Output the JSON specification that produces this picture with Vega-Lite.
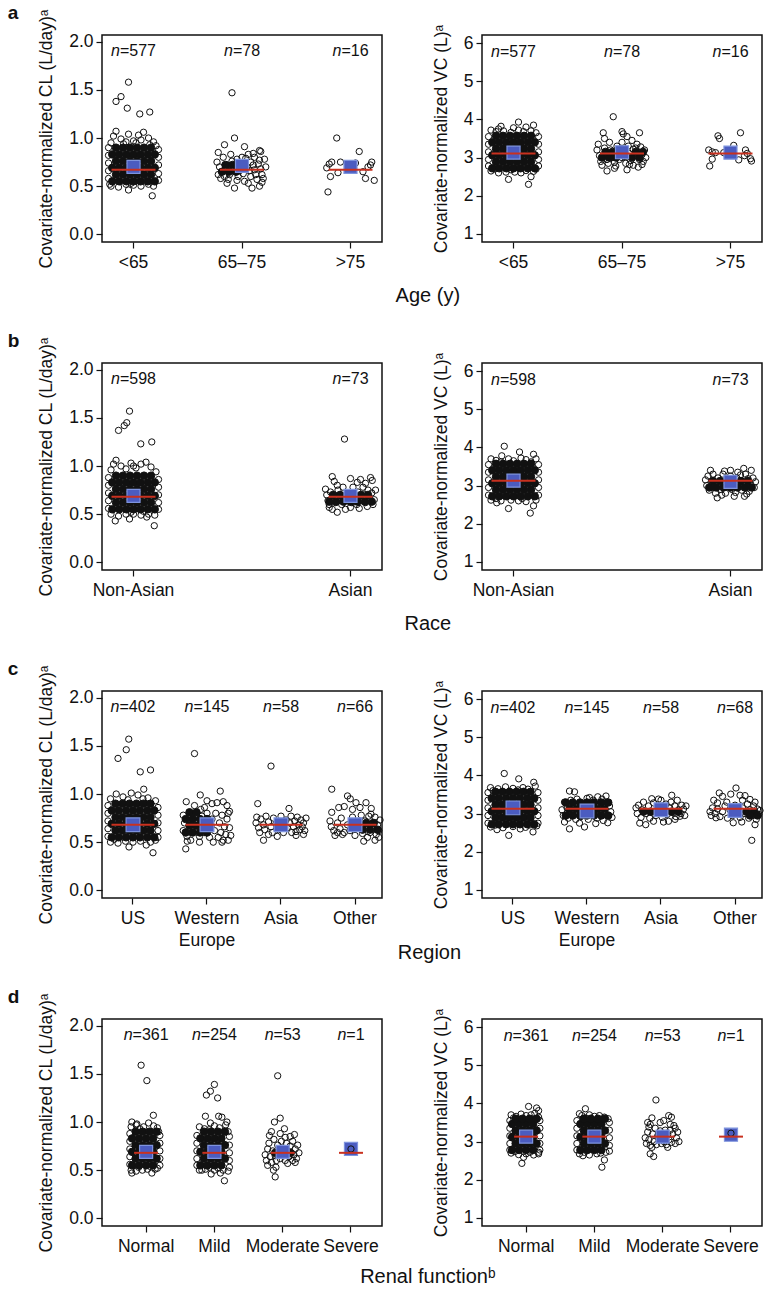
{
"$schema": "https://vega.github.io/schema/vega-lite/v6.json",
"background": "white",
"padding": {"left": 6, "top": 3, "right": 5, "bottom": 5},
"config": {
 "font": "Liberation Sans",
 "view": {"stroke": "#111", "strokeWidth": 1.5},
 "axis": {"labelFont": "Liberation Sans", "titleFont": "Liberation Sans", "labelFontSize": 17.5, "titleFontSize": 17.5, "titleFontWeight": "normal", "labelColor": "#111", "titleColor": "#111", "tickColor": "#111", "tickSize": 6, "tickWidth": 1.2, "grid": false, "domain": false},
 "axisY": {"labelPadding": 3, "titlePadding": 13},
 "axisX": {"labelPadding": 5, "labelAngle": 0},
 "title": {"font": "Liberation Sans", "color": "#111"}
},
"datasets": {
 "core": [
  {"p":"aL","g":"<65","v":0.55,"j":[-8.5,-5.7,-2.8,0,2.8,5.7,8.5]},
  {"p":"aL","g":"<65","v":0.62,"j":[-7,-4.2,-1.4,1.4,4.2,7]},
  {"p":"aL","g":"<65","v":0.69,"j":[-8.5,-5.7,-2.8,0,2.8,5.7,8.5]},
  {"p":"aL","g":"<65","v":0.76,"j":[-7,-4.2,-1.4,1.4,4.2,7]},
  {"p":"aL","g":"<65","v":0.83,"j":[-8.5,-5.7,-2.8,0,2.8,5.7,8.5]},
  {"p":"aL","g":"<65","v":0.90,"j":[-7,-4.2,-1.4,1.4,4.2,7]},
  {"p":"aL","g":"65–75","v":0.65,"j":[-8,-5.2,-2.4]},
  {"p":"aL","g":"65–75","v":0.72,"j":[-6.6,-3.8]},
  {"p":"aR","g":"<65","v":2.72,"j":[-8.5,-5.7,-2.8,0,2.8,5.7,8.5]},
  {"p":"aR","g":"<65","v":2.89,"j":[-7,-4.2,-1.4,1.4,4.2,7]},
  {"p":"aR","g":"<65","v":3.06,"j":[-8.5,-5.7,-2.8,0,2.8,5.7,8.5]},
  {"p":"aR","g":"<65","v":3.23,"j":[-7,-4.2,-1.4,1.4,4.2,7]},
  {"p":"aR","g":"<65","v":3.40,"j":[-8.5,-5.7,-2.8,0,2.8,5.7,8.5]},
  {"p":"aR","g":"<65","v":3.57,"j":[-7,-4.2,-1.4,1.4,4.2,7]},
  {"p":"aR","g":"65–75","v":3.0,"j":[-8,-5.2,-2.4,4,7]},
  {"p":"aR","g":"65–75","v":3.15,"j":[-6.6,-3.8,5.5,8.4]},
  {"p":"bL","g":"Non-Asian","v":0.55,"j":[-8.5,-5.7,-2.8,0,2.8,5.7,8.5]},
  {"p":"bL","g":"Non-Asian","v":0.62,"j":[-7,-4.2,-1.4,1.4,4.2,7]},
  {"p":"bL","g":"Non-Asian","v":0.69,"j":[-8.5,-5.7,-2.8,0,2.8,5.7,8.5]},
  {"p":"bL","g":"Non-Asian","v":0.76,"j":[-7,-4.2,-1.4,1.4,4.2,7]},
  {"p":"bL","g":"Non-Asian","v":0.83,"j":[-8.5,-5.7,-2.8,0,2.8,5.7,8.5]},
  {"p":"bL","g":"Non-Asian","v":0.90,"j":[-7,-4.2,-1.4,1.4,4.2,7]},
  {"p":"bL","g":"Asian","v":0.63,"j":[-8.5,-5.7,-2.8,0,2.8,5.7,8.5]},
  {"p":"bL","g":"Asian","v":0.70,"j":[-7,-4.2,-1.4,1.4,4.2,7]},
  {"p":"bR","g":"Non-Asian","v":2.72,"j":[-8.5,-5.7,-2.8,0,2.8,5.7,8.5]},
  {"p":"bR","g":"Non-Asian","v":2.89,"j":[-7,-4.2,-1.4,1.4,4.2,7]},
  {"p":"bR","g":"Non-Asian","v":3.06,"j":[-8.5,-5.7,-2.8,0,2.8,5.7,8.5]},
  {"p":"bR","g":"Non-Asian","v":3.23,"j":[-7,-4.2,-1.4,1.4,4.2,7]},
  {"p":"bR","g":"Non-Asian","v":3.40,"j":[-8.5,-5.7,-2.8,0,2.8,5.7,8.5]},
  {"p":"bR","g":"Non-Asian","v":3.57,"j":[-7,-4.2,-1.4,1.4,4.2,7]},
  {"p":"bR","g":"Asian","v":2.95,"j":[-8.5,-5.7,-2.8,0,2.8,5.7,8.5]},
  {"p":"bR","g":"Asian","v":3.12,"j":[-7,-4.2,-1.4,1.4,4.2,7]},
  {"p":"cL","g":"US","v":0.55,"j":[-8.5,-5.7,-2.8,0,2.8,5.7,8.5]},
  {"p":"cL","g":"US","v":0.62,"j":[-7,-4.2,-1.4,1.4,4.2,7]},
  {"p":"cL","g":"US","v":0.69,"j":[-8.5,-5.7,-2.8,0,2.8,5.7,8.5]},
  {"p":"cL","g":"US","v":0.76,"j":[-7,-4.2,-1.4,1.4,4.2,7]},
  {"p":"cL","g":"US","v":0.83,"j":[-8.5,-5.7,-2.8,0,2.8,5.7,8.5]},
  {"p":"cL","g":"US","v":0.90,"j":[-7,-4.2,-1.4,1.4,4.2,7]},
  {"p":"cL","g":"Western Europe","v":0.60,"j":[-8.5,-5.7,-2.8,0]},
  {"p":"cL","g":"Western Europe","v":0.67,"j":[-7,-4.2,-1.4,1.4]},
  {"p":"cL","g":"Western Europe","v":0.74,"j":[-8.5,-5.7,-2.8,0]},
  {"p":"cL","g":"Western Europe","v":0.81,"j":[-7,-4.2]},
  {"p":"cL","g":"Other","v":0.63,"j":[3,6,9]},
  {"p":"cL","g":"Other","v":0.70,"j":[4.5,7.5]},
  {"p":"cR","g":"US","v":2.72,"j":[-8.5,-5.7,-2.8,0,2.8,5.7,8.5]},
  {"p":"cR","g":"US","v":2.89,"j":[-7,-4.2,-1.4,1.4,4.2,7]},
  {"p":"cR","g":"US","v":3.06,"j":[-8.5,-5.7,-2.8,0,2.8,5.7,8.5]},
  {"p":"cR","g":"US","v":3.23,"j":[-7,-4.2,-1.4,1.4,4.2,7]},
  {"p":"cR","g":"US","v":3.40,"j":[-8.5,-5.7,-2.8,0,2.8,5.7,8.5]},
  {"p":"cR","g":"US","v":3.57,"j":[-7,-4.2,-1.4,1.4,4.2,7]},
  {"p":"cR","g":"Western Europe","v":2.95,"j":[-8.5,-5.7,-2.8,0,2.8,5.7,8.5]},
  {"p":"cR","g":"Western Europe","v":3.12,"j":[-7,-4.2,-1.4,1.4,4.2,7]},
  {"p":"cR","g":"Western Europe","v":3.29,"j":[-8.5,-5.7,-2.8,0,2.8,5.7,8.5]},
  {"p":"cR","g":"Asia","v":3.05,"j":[-7,-4.2,-1.4,1.4,4.2,7]},
  {"p":"cR","g":"Other","v":3.05,"j":[4.5,7.5]},
  {"p":"cR","g":"Other","v":2.95,"j":[6,9]},
  {"p":"dL","g":"Normal","v":0.55,"j":[-5.6,-2.8,0,2.8]},
  {"p":"dL","g":"Normal","v":0.62,"j":[-4.2,-1.4,1.4,4.2]},
  {"p":"dL","g":"Normal","v":0.69,"j":[-5.6,-2.8,0,2.8]},
  {"p":"dL","g":"Normal","v":0.76,"j":[-4.2,-1.4,1.4,4.2]},
  {"p":"dL","g":"Normal","v":0.83,"j":[-5.6,-2.8,0,2.8]},
  {"p":"dL","g":"Normal","v":0.90,"j":[-4.2,-1.4,1.4,4.2]},
  {"p":"dL","g":"Mild","v":0.55,"j":[-5.6,-2.8,0,2.8]},
  {"p":"dL","g":"Mild","v":0.62,"j":[-4.2,-1.4,1.4,4.2]},
  {"p":"dL","g":"Mild","v":0.69,"j":[-5.6,-2.8,0,2.8]},
  {"p":"dL","g":"Mild","v":0.76,"j":[-4.2,-1.4,1.4,4.2]},
  {"p":"dL","g":"Mild","v":0.83,"j":[-5.6,-2.8,0,2.8]},
  {"p":"dL","g":"Mild","v":0.90,"j":[-4.2,-1.4,1.4,4.2]},
  {"p":"dL","g":"Moderate","v":0.68,"j":[-3,0,3]},
  {"p":"dR","g":"Normal","v":2.78,"j":[-5.6,-2.8,0,2.8]},
  {"p":"dR","g":"Normal","v":2.95,"j":[-4.2,-1.4,1.4,4.2]},
  {"p":"dR","g":"Normal","v":3.12,"j":[-5.6,-2.8,0,2.8]},
  {"p":"dR","g":"Normal","v":3.29,"j":[-4.2,-1.4,1.4,4.2]},
  {"p":"dR","g":"Normal","v":3.46,"j":[-5.6,-2.8,0,2.8]},
  {"p":"dR","g":"Normal","v":3.60,"j":[-4.2,-1.4,1.4,4.2]},
  {"p":"dR","g":"Mild","v":2.78,"j":[-5.6,-2.8,0,2.8]},
  {"p":"dR","g":"Mild","v":2.95,"j":[-4.2,-1.4,1.4,4.2]},
  {"p":"dR","g":"Mild","v":3.12,"j":[-5.6,-2.8,0,2.8]},
  {"p":"dR","g":"Mild","v":3.29,"j":[-4.2,-1.4,1.4,4.2]},
  {"p":"dR","g":"Mild","v":3.46,"j":[-5.6,-2.8,0,2.8]},
  {"p":"dR","g":"Mild","v":3.60,"j":[-4.2,-1.4,1.4,4.2]}
 ],
 "open": [
  {"p":"aL","g":"<65","d":[[-2,1.58],[-5,1.43],[-7,1.38],[-2.5,1.31],[2.5,1.25],[6.5,1.27],[7.5,0.4],[-2,0.46],[-7,1.07],[-8,1.02],[-5,0.99],[-2,1.04],[0,0.97],[2,1.03],[4,1.06],[6,1.0],[8,0.96],[-9,0.95],[9,0.92],[3,0.98],[-3,0.96],[-10,0.9],[-10,0.82],[-10,0.74],[-10,0.66],[-10,0.58],[10,0.88],[10,0.8],[10,0.72],[10,0.63],[10,0.56],[-9.5,0.52],[-9,0.5],[-6,0.49],[-3,0.52],[0,0.51],[3,0.5],[6,0.52],[8,0.5],[-1,0.53],[5,0.55],[-4,0.94],[1,0.95],[6.5,0.93]]},
  {"p":"aL","g":"65–75","d":[[-4,1.47],[-3,1.0],[-7,0.93],[1,0.91],[7,0.87],[7.5,0.86],[-9.5,0.85],[4.5,0.84],[-4.5,0.83],[-7.5,0.8],[-2,0.78],[7,0.77],[3.5,0.75],[-3,0.48],[4,0.48],[7,0.5],[2.5,0.53],[1,0.55],[-10,0.75],[-9,0.7],[-8,0.65],[-9.5,0.62],[-8.5,0.58],[-6,0.72],[-6.5,0.67],[-5,0.62],[-5.5,0.57],[-4,0.76],[-3.5,0.7],[-2.5,0.65],[-1.5,0.6],[-1,0.73],[0,0.68],[0.5,0.63],[1.5,0.79],[2,0.7],[3,0.66],[3.5,0.6],[4.5,0.72],[5,0.67],[5.5,0.62],[6,0.57],[6.5,0.73],[7.5,0.68],[8,0.62],[8.5,0.58],[9,0.78],[9.5,0.7],[-7,0.6],[-2,0.56],[0,0.8],[5,0.8],[-6,0.53],[8,0.54],[-1,0.66],[2.5,0.83]]},
  {"p":"aL","g":">75","d":[[-9,0.44],[-8,0.6],[-9.5,0.69],[-8.5,0.73],[-7.5,0.75],[-5.5,1.0],[-4,0.75],[-5,0.64],[2,0.74],[3.5,0.86],[5,0.65],[6,0.58],[7,0.7],[8,0.72],[8.5,0.75],[9.5,0.56]]},
  {"p":"aR","g":"<65","d":[[2,3.93],[8,3.85],[-5,3.82],[5,3.8],[-2,2.43],[6,2.3],[7,2.5],[0.5,2.62],[-9,3.72],[-7,3.68],[-4,3.7],[-1,3.66],[2,3.72],[4,3.68],[7,3.7],[9,3.65],[-6,3.75],[0,3.78],[-10,3.55],[-10,3.35],[-10,3.15],[-10,2.95],[-10,2.78],[10,3.55],[10,3.35],[10,3.15],[10,2.95],[10,2.78],[-9,2.65],[-6,2.6],[-3,2.62],[-1,2.68],[3,2.6],[5,2.66],[8,2.64],[-7.5,2.7],[9,2.7]]},
  {"p":"aR","g":"65–75","d":[[-3.5,4.07],[-7.5,3.65],[0,3.68],[7,3.65],[0.5,3.62],[2,3.55],[-7,3.5],[-6,2.65],[-3,2.72],[6.5,2.75],[2,2.68],[4.5,2.8],[-10,3.2],[-9,3.05],[-8.5,2.9],[-9.5,3.35],[-7,3.25],[-6.5,3.1],[-6,2.95],[-5,3.4],[-4.5,3.2],[-4,3.0],[-3,2.88],[-2,3.3],[-1.5,3.12],[-1,2.95],[0,3.4],[0.5,3.2],[1,3.02],[1.5,2.85],[2.5,3.3],[3,3.1],[3.5,2.92],[4,3.45],[4.5,3.22],[5,3.05],[6,3.35],[6.5,3.15],[7,2.95],[7.5,3.28],[8,3.08],[8.5,2.9],[9,3.2],[9.5,3.0],[-8,2.8],[-2.5,2.78],[3,2.82],[8,2.82],[-5.5,2.85],[0,3.0],[-3.5,3.1],[5.5,3.25]]},
  {"p":"aR","g":">75","d":[[4,3.65],[-5,3.57],[-4.4,3.5],[1.3,3.32],[-8.7,3.2],[-7.3,3.15],[6,3.2],[-6,3.13],[-7.3,2.96],[-8.3,2.78],[3.3,2.94],[8,2.97],[8.4,2.91],[6.7,3.11],[5.6,3.05],[-2.7,3.13]]},
  {"p":"bL","g":"Non-Asian","d":[[-1.6,1.57],[-2.7,1.45],[-3.7,1.42],[-6,1.37],[2.9,1.23],[7.3,1.25],[8.3,0.38],[-7.3,0.43],[-1.6,0.45],[5.3,0.47],[-7,1.06],[-8,1.02],[-5,1.0],[-1,1.03],[1,0.98],[3,1.02],[5,1.04],[7,0.99],[-9,0.96],[9,0.94],[-3,0.97],[0,1.0],[-10,0.88],[-10,0.8],[-10,0.72],[-10,0.64],[-10,0.56],[10,0.86],[10,0.78],[10,0.7],[10,0.62],[10,0.55],[-9,0.5],[-6,0.48],[-3,0.5],[0,0.5],[3,0.49],[6,0.5],[8.5,0.49],[-1,0.52],[4,0.53]]},
  {"p":"bL","g":"Asian","d":[[-2.4,1.28],[-7.3,0.89],[0,0.87],[4,0.86],[8,0.88],[8.7,0.85],[2.7,0.83],[-5.3,0.8],[-5.3,0.52],[-7.3,0.55],[0,0.57],[6.7,0.58],[-10,0.76],[-9.5,0.7],[-9,0.64],[-8.5,0.6],[-8,0.73],[-6.5,0.67],[-6,0.62],[-5,0.75],[-4,0.7],[-3.5,0.6],[-3,0.78],[-2,0.65],[-1,0.72],[0.5,0.62],[1,0.78],[1.5,0.68],[2.5,0.6],[3,0.73],[4,0.65],[5,0.78],[5.5,0.7],[6,0.62],[7,0.75],[7.5,0.67],[8.5,0.72],[9.5,0.65],[10,0.75],[9,0.6],[-8.5,0.57],[-2,0.55],[3.5,0.56],[-6.5,0.84],[6,0.82]]},
  {"p":"bR","g":"Non-Asian","d":[[-3.7,4.03],[2.4,3.88],[8,3.82],[-4.7,3.78],[-2,2.4],[6.7,2.28],[8,2.47],[-6.7,2.55],[-9,3.7],[-7,3.66],[-2,3.7],[0,3.65],[3,3.72],[5,3.68],[9,3.7],[-5,3.62],[7,3.62],[-10,3.55],[-10,3.35],[-10,3.15],[-10,2.95],[-10,2.75],[10,3.55],[10,3.35],[10,3.15],[10,2.95],[10,2.75],[-9,2.62],[-5,2.6],[-1,2.62],[2,2.6],[5,2.58],[9,2.62],[-7,2.66],[3.5,2.66]]},
  {"p":"bR","g":"Asian","d":[[5.3,3.45],[8.3,3.4],[-2.4,3.38],[2.9,3.35],[-5.3,2.68],[5.6,2.72],[-10,3.15],[-9.5,3.0],[-9,3.25],[-8.5,2.88],[-7.5,3.1],[-7,3.3],[-6.5,2.95],[-6,2.8],[-5,3.2],[-4.5,3.05],[-4,2.9],[-3,3.3],[-2.5,3.1],[-2,2.8],[-1,3.0],[0,3.25],[0.5,2.9],[1,3.12],[2,2.82],[2.5,3.2],[3,3.0],[4,3.28],[4.5,2.88],[5,3.1],[6,3.3],[6.5,2.95],[7,3.18],[7.5,2.85],[8,3.05],[9,3.2],[9.5,2.95],[10,3.1],[-8,3.4],[0,3.4],[6.5,2.78],[-3.5,2.75],[1.5,2.72]]},
  {"p":"cL","g":"US","d":[[-1.7,1.57],[-2.7,1.46],[-6,1.37],[2.9,1.23],[7,1.25],[4.3,1.05],[8,0.39],[-1.6,0.45],[5.3,0.47],[-6.7,1.0],[-0.7,1.01],[-9,0.95],[-4,0.97],[2,0.99],[6,0.96],[9,0.93],[-2,0.94],[4,0.95],[-10,0.88],[-10,0.8],[-10,0.72],[-10,0.64],[-10,0.56],[10,0.86],[10,0.78],[10,0.7],[10,0.62],[10,0.55],[-9,0.5],[-6,0.49],[-3,0.51],[0,0.5],[3,0.51],[7,0.5],[9,0.52],[-7.5,0.53]]},
  {"p":"cL","g":"Western Europe","d":[[-5,1.42],[5.3,1.03],[-2.7,0.99],[-8.3,0.92],[-8.5,0.43],[-7.9,0.51],[0,0.93],[2,0.9],[4,0.91],[6.5,0.92],[8,0.88],[-5,0.88],[-1,0.86],[9,0.82],[-9.5,0.78],[-9,0.7],[-9.5,0.62],[-8,0.56],[-7,0.75],[-6.5,0.68],[-6,0.6],[-5,0.8],[-4.5,0.72],[-4,0.64],[-3,0.56],[-2,0.77],[-1.5,0.7],[-1,0.6],[0,0.8],[0.5,0.66],[1,0.55],[2,0.74],[3,0.62],[3.5,0.8],[4.5,0.55],[5,0.7],[5.5,0.6],[6,0.78],[6.5,0.52],[7,0.66],[7.5,0.58],[8,0.74],[8.5,0.52],[9,0.65],[9.5,0.57],[-3,0.5],[2.5,0.5],[6,0.5],[-6.5,0.52],[-2.5,0.84],[8.5,0.8]]},
  {"p":"cL","g":"Asia","d":[[-4,1.29],[-9.3,0.9],[3.2,0.85],[-9.7,0.76],[-7,0.52],[-5,0.58],[4.3,0.6],[-10,0.7],[-9,0.65],[-8.5,0.6],[-8,0.74],[-7,0.68],[-6.5,0.63],[-6,0.77],[-5,0.71],[-4,0.66],[-3.5,0.6],[-3,0.75],[-2,0.69],[-1,0.63],[0,0.77],[0.5,0.68],[1,0.6],[2,0.73],[2.5,0.65],[3.5,0.7],[4,0.77],[5,0.66],[5.5,0.72],[6,0.61],[6.5,0.76],[7,0.68],[7.5,0.63],[8,0.73],[8.5,0.66],[9,0.7],[9.5,0.62],[10,0.75],[-1.5,0.56],[6,0.57],[9,0.58]]},
  {"p":"cL","g":"Other","d":[[-9.3,1.05],[-3,0.98],[-1.9,0.95],[0.4,0.91],[4.4,0.91],[-4.3,0.87],[-9.3,0.81],[6.4,0.79],[3.5,0.51],[5,0.55],[-4.3,0.6],[-10,0.72],[-9.5,0.66],[-8.5,0.62],[-8,0.57],[-7,0.7],[-6,0.64],[-5.5,0.75],[-5,0.58],[-3,0.68],[-2,0.62],[-1,0.76],[0,0.57],[1,0.7],[2,0.64],[2.5,0.78],[3,0.59],[4,0.72],[5,0.65],[5.5,0.77],[6,0.6],[7,0.7],[7.5,0.64],[8,0.76],[8.5,0.58],[9,0.68],[9.5,0.62],[10,0.73],[9.5,0.55],[8,0.52],[-7,0.6],[-1,0.84],[2,0.86],[-6.5,0.86],[6.5,0.85]]},
  {"p":"cR","g":"US","d":[[-3.5,4.05],[2.3,3.91],[8.3,3.82],[8.9,3.72],[-1.7,2.43],[8,2.52],[2.9,2.6],[-6.4,2.58],[-9,3.68],[-6,3.65],[-3,3.7],[0,3.66],[4,3.68],[6,3.64],[-8,3.6],[2,3.62],[-10,3.55],[-10,3.35],[-10,3.15],[-10,2.95],[-10,2.75],[10,3.55],[10,3.35],[10,3.15],[10,2.95],[10,2.75],[-9,2.65],[-4,2.63],[0,2.66],[5,2.64],[9.5,2.68],[-7,2.7],[6.5,2.7]]},
  {"p":"cR","g":"Western Europe","d":[[-7,3.59],[-5,3.57],[7.6,3.46],[4.3,3.44],[-7,2.6],[-1,2.65],[8.3,2.76],[-9,2.78],[-10,3.1],[-9.5,2.95],[-9,3.3],[-8,3.15],[-7.5,2.88],[-6.5,3.35],[-6,3.0],[-5,3.22],[-4.5,2.85],[-4,3.38],[-3,3.1],[-2.5,2.92],[-2,3.28],[-1,3.05],[0,3.4],[0.5,2.85],[1,3.2],[2,2.98],[2.5,3.35],[3,3.12],[4,2.88],[5,3.25],[5.5,3.0],[6,3.38],[6.5,2.82],[7,3.15],[8,3.3],[8.5,2.95],[9,3.2],[9.5,3.05],[10,2.9],[-3,2.75],[3.5,2.74],[1,3.42]]},
  {"p":"cR","g":"Asia","d":[[4.3,3.48],[-3.7,3.39],[8.3,3.22],[-6.1,2.71],[-3,2.8],[3,2.8],[5.6,2.85],[7.6,2.93],[-10,3.15],[-9.5,3.0],[-9,3.22],[-8,2.9],[-7.5,3.1],[-7,3.3],[-6,3.0],[-5,3.2],[-4.5,2.88],[-4,3.05],[-3,3.28],[-2,2.95],[-1,3.15],[0,3.35],[0.5,2.9],[1,3.08],[2,3.25],[2.5,2.98],[3.5,3.15],[4,3.3],[5,3.02],[5.5,3.2],[6,2.92],[6.5,3.35],[7,3.1],[8,3.0],[9,3.12],[9.5,2.95],[10,3.2],[-8.5,2.75],[1,2.78],[-1,3.38]]},
  {"p":"cR","g":"Other","d":[[0.4,3.67],[-6.3,3.54],[-1.7,3.51],[2,3.48],[4,3.47],[6,3.37],[-7,3.28],[-3.3,3.3],[6.7,2.3],[8,2.71],[-0.7,2.76],[2.7,2.78],[-7.6,2.89],[-10,3.05],[-9.5,2.95],[-9,3.15],[-8,3.0],[-7,3.12],[-6,2.92],[-5,3.05],[-4,3.2],[-3,2.88],[-2,3.1],[-1,2.95],[0,3.22],[1,3.05],[2,2.9],[3,3.15],[4,3.0],[5,3.25],[5.5,2.88],[6,3.1],[7,2.95],[7.5,3.2],[8,3.05],[8.5,2.85],[9,3.12],[9.5,2.98],[10,3.08],[-5,3.45],[3,3.35],[8,3.3],[-8.5,3.35]]},
  {"p":"dL","g":"Normal","d":[[-2,1.59],[0.3,1.43],[2.9,1.07],[-5.7,1.0],[-3.7,0.98],[-5.7,0.47],[2.3,0.47],[3.6,0.51],[-6,0.95],[-4,0.97],[-1,0.95],[1,0.99],[3,0.96],[4.5,0.94],[-2.5,0.93],[5,0.9],[-6.5,0.88],[-6.5,0.8],[-6.5,0.72],[-6.5,0.64],[-6.5,0.56],[5.5,0.86],[5.5,0.78],[5.5,0.7],[5.5,0.62],[5.5,0.55],[-6,0.5],[-4,0.49],[-1.5,0.5],[0.5,0.51],[4.5,0.52],[-3,0.53],[1.5,0.54]]},
  {"p":"dL","g":"Mild","d":[[0,1.39],[-1.6,1.32],[-3.2,1.28],[1.3,1.25],[-3.6,1.06],[1.7,1.06],[3,1.05],[-1.6,0.99],[4,0.39],[-1.3,0.46],[-5,0.5],[2.4,0.47],[-6,0.95],[-4,0.93],[0,0.96],[2,0.94],[4.5,0.97],[5.5,0.9],[-2,0.92],[5,1.0],[-7,0.86],[-7,0.78],[-7,0.7],[-7,0.62],[-7,0.55],[6,0.85],[6,0.76],[6,0.68],[6,0.6],[6,0.53],[-6,0.5],[-3.5,0.51],[0,0.5],[3.5,0.5],[5.5,0.49],[-2,0.53],[1.5,0.52]]},
  {"p":"dL","g":"Moderate","d":[[-2,1.48],[-1,1.04],[-3.3,1.0],[0.7,0.93],[4.7,0.87],[-5.3,0.86],[-3,0.43],[-3.7,0.5],[-2.7,0.53],[2,0.57],[4,0.6],[-7,0.66],[-6.5,0.6],[-6,0.72],[-5.5,0.78],[-5,0.64],[-4.5,0.58],[-4,0.7],[-3.5,0.82],[-3,0.65],[-2.5,0.6],[-2,0.76],[-1.5,0.68],[-1,0.62],[-0.5,0.8],[0,0.72],[0.5,0.65],[1,0.6],[1.5,0.78],[2,0.7],[2.5,0.64],[3,0.75],[3.5,0.68],[4,0.8],[4.5,0.66],[5,0.72],[5.5,0.62],[6,0.76],[6.5,0.68],[-6,0.55],[5,0.58],[3,0.85],[-1,0.88],[1,0.84],[-4.5,0.9]]},
  {"p":"dL","g":"Severe","d":[[0,0.72]]},
  {"p":"dR","g":"Normal","d":[[1,3.92],[4.2,3.88],[5,3.81],[-1.7,2.43],[-1,2.59],[5,2.68],[-6,3.7],[-4,3.66],[-2,3.72],[0,3.68],[2,3.7],[3.5,3.74],[-5,3.62],[5,3.64],[-6.5,3.55],[-6.5,3.35],[-6.5,3.15],[-6.5,2.95],[-6.5,2.78],[5.5,3.55],[5.5,3.35],[5.5,3.15],[5.5,2.95],[5.5,2.78],[-6,2.7],[-3,2.66],[0,2.68],[3,2.65],[5,2.72],[-4.5,2.74],[1.5,2.72]]},
  {"p":"dR","g":"Mild","d":[[-3.6,3.86],[-6,3.73],[3,2.33],[4,2.52],[-4.6,2.63],[4.6,2.72],[-5,3.68],[-2,3.7],[0,3.66],[2,3.68],[4,3.64],[5.5,3.6],[-3.5,3.62],[-7,3.55],[-7,3.35],[-7,3.15],[-7,2.95],[-7,2.78],[6,3.5],[6,3.3],[6,3.1],[6,2.9],[6,2.75],[-6,2.68],[-2,2.65],[1,2.68],[-4,2.72],[2.5,2.7]]},
  {"p":"dR","g":"Moderate","d":[[-2.7,4.09],[2.4,3.68],[3.5,3.64],[-4.3,3.62],[0.4,3.55],[-5,3.45],[-5.5,3.38],[-3.6,2.61],[-5,2.68],[-4.3,2.85],[-7,3.1],[-6.5,2.95],[-6,3.25],[-5.5,3.05],[-5,2.9],[-4,3.2],[-3.5,3.0],[-3,3.35],[-2.5,2.92],[-2,3.15],[-1.5,3.05],[-1,3.28],[-0.5,2.95],[0,3.15],[0.5,3.0],[1,3.3],[1.5,2.92],[2,3.18],[2.5,3.05],[3,3.3],[3.5,2.98],[4,3.2],[4.5,3.42],[5,3.35],[5.5,3.1],[6,3.25],[6.5,3.0],[3,3.45],[-1,3.5],[-6,3.5],[2,2.85],[5,2.95]]},
  {"p":"dR","g":"Severe","d":[[0,3.22]]}
 ],
 "grp": [
  {"p":"aL","g":"<65","m":0.70,"r":0.67,"t":"=577"},
  {"p":"aL","g":"65–75","m":0.71,"r":0.67,"t":"=78"},
  {"p":"aL","g":">75","m":0.70,"r":0.67,"t":"=16"},
  {"p":"aR","g":"<65","m":3.13,"r":3.11,"t":"=577"},
  {"p":"aR","g":"65–75","m":3.14,"r":3.11,"t":"=78"},
  {"p":"aR","g":">75","m":3.13,"r":3.11,"t":"=16"},
  {"p":"bL","g":"Non-Asian","m":0.69,"r":0.68,"t":"=598"},
  {"p":"bL","g":"Asian","m":0.69,"r":0.68,"t":"=73"},
  {"p":"bR","g":"Non-Asian","m":3.13,"r":3.13,"t":"=598"},
  {"p":"bR","g":"Asian","m":3.10,"r":3.13,"t":"=73"},
  {"p":"cL","g":"US","m":0.68,"r":0.68,"t":"=402"},
  {"p":"cL","g":"Western Europe","m":0.68,"r":0.68,"t":"=145"},
  {"p":"cL","g":"Asia","m":0.68,"r":0.68,"t":"=58"},
  {"p":"cL","g":"Other","m":0.68,"r":0.68,"t":"=66"},
  {"p":"cR","g":"US","m":3.15,"r":3.13,"t":"=402"},
  {"p":"cR","g":"Western Europe","m":3.07,"r":3.13,"t":"=145"},
  {"p":"cR","g":"Asia","m":3.10,"r":3.13,"t":"=58"},
  {"p":"cR","g":"Other","m":3.08,"r":3.13,"t":"=68"},
  {"p":"dL","g":"Normal","m":0.69,"r":0.68,"t":"=361"},
  {"p":"dL","g":"Mild","m":0.69,"r":0.68,"t":"=254"},
  {"p":"dL","g":"Moderate","m":0.69,"r":0.68,"t":"=53"},
  {"p":"dL","g":"Severe","m":0.72,"r":0.68,"t":"=1"},
  {"p":"dR","g":"Normal","m":3.13,"r":3.13,"t":"=361"},
  {"p":"dR","g":"Mild","m":3.13,"r":3.13,"t":"=254"},
  {"p":"dR","g":"Moderate","m":3.13,"r":3.13,"t":"=53"},
  {"p":"dR","g":"Severe","m":3.18,"r":3.13,"t":"=1"}
 ]
},
"vconcat": [
 {"hconcat": [
  {"width":280,"height":207,
   "title":{"text":"a","anchor":"start","frame":"bounds","fontSize":19,"fontWeight":"bold","dx":-30,"offset":-14},
   "layer":[
    {"data":{"name":"core"},"transform":[{"filter":"datum.p=='aL'"},{"flatten":["j"]}],"mark":{"type":"point","shape":"circle","filled":true,"size":56,"color":"#111","stroke":"#111","strokeWidth":1,"opacity":1},
     "encoding":{"x":{"field":"g","type":"nominal","scale":{"type":"band","domain":["<65","65–75",">75"],"paddingInner":0.539,"paddingOuter":0.06},"axis":{"title":null}},"xOffset":{"field":"j","type":"quantitative","scale":{"domain":[-10,10]}},"y":{"field":"v","type":"quantitative","scale":{"domain":[-0.08,2.07],"nice":false,"zero":false},"axis":{"values":[0,0.5,1,1.5,2],"format":".1f","title":"Covariate-normalized CL (L/day)ᵃ"}}}},
    {"data":{"name":"open"},"transform":[{"filter":"datum.p=='aL'"},{"flatten":["d"]}],"mark":{"type":"point","shape":"circle","filled":false,"size":40,"color":"#111","strokeWidth":1,"opacity":1},
     "encoding":{"x":{"field":"g","type":"nominal"},"xOffset":{"field":"d[0]","type":"quantitative"},"y":{"field":"d[1]","type":"quantitative"}}},
    {"data":{"name":"grp"},"transform":[{"filter":"datum.p=='aL'"}],"mark":{"type":"point","shape":"square","filled":true,"size":170,"color":"#4b5cc0","stroke":"#7e93dd","strokeWidth":1.2,"opacity":1},
     "encoding":{"x":{"field":"g","type":"nominal"},"y":{"field":"m","type":"quantitative"}}},
    {"data":{"name":"grp"},"transform":[{"filter":"datum.p=='aL'"}],"mark":{"type":"tick","color":"#c9311f","thickness":2,"size":44,"opacity":1},
     "encoding":{"x":{"field":"g","type":"nominal"},"y":{"field":"r","type":"quantitative"}}},
    {"data":{"name":"grp"},"transform":[{"filter":"datum.p=='aL'"}],"mark":{"type":"text","text":"n","fontStyle":"italic","fontSize":16,"align":"right","baseline":"middle","color":"#111","dx":{"expr":"-0.2-4.45*(length(datum.t)-1)"}},
     "encoding":{"x":{"field":"g","type":"nominal"},"y":{"datum":1.9}}},
    {"data":{"name":"grp"},"transform":[{"filter":"datum.p=='aL'"}],"mark":{"type":"text","fontSize":16,"align":"left","baseline":"middle","color":"#111","dx":{"expr":"-0.2-4.45*(length(datum.t)-1)"}},
     "encoding":{"x":{"field":"g","type":"nominal"},"y":{"datum":1.9},"text":{"field":"t"}}}
   ]},
  {"width":280,"height":207,
   "layer":[
    {"data":{"name":"core"},"transform":[{"filter":"datum.p=='aR'"},{"flatten":["j"]}],"mark":{"type":"point","shape":"circle","filled":true,"size":56,"color":"#111","stroke":"#111","strokeWidth":1,"opacity":1},
     "encoding":{"x":{"field":"g","type":"nominal","scale":{"type":"band","domain":["<65","65–75",">75"],"paddingInner":0.539,"paddingOuter":0.06},"axis":{"title":null}},"xOffset":{"field":"j","type":"quantitative","scale":{"domain":[-10,10]}},"y":{"field":"v","type":"quantitative","scale":{"domain":[0.79,6.21],"nice":false,"zero":false},"axis":{"values":[1,2,3,4,5,6],"format":"d","title":"Covariate-normalized VC (L)ᵃ"}}}},
    {"data":{"name":"open"},"transform":[{"filter":"datum.p=='aR'"},{"flatten":["d"]}],"mark":{"type":"point","shape":"circle","filled":false,"size":40,"color":"#111","strokeWidth":1,"opacity":1},
     "encoding":{"x":{"field":"g","type":"nominal"},"xOffset":{"field":"d[0]","type":"quantitative"},"y":{"field":"d[1]","type":"quantitative"}}},
    {"data":{"name":"grp"},"transform":[{"filter":"datum.p=='aR'"}],"mark":{"type":"point","shape":"square","filled":true,"size":170,"color":"#4b5cc0","stroke":"#7e93dd","strokeWidth":1.2,"opacity":1},
     "encoding":{"x":{"field":"g","type":"nominal"},"y":{"field":"m","type":"quantitative"}}},
    {"data":{"name":"grp"},"transform":[{"filter":"datum.p=='aR'"}],"mark":{"type":"tick","color":"#c9311f","thickness":2,"size":44,"opacity":1},
     "encoding":{"x":{"field":"g","type":"nominal"},"y":{"field":"r","type":"quantitative"}}},
    {"data":{"name":"grp"},"transform":[{"filter":"datum.p=='aR'"}],"mark":{"type":"text","text":"n","fontStyle":"italic","fontSize":16,"align":"right","baseline":"middle","color":"#111","dx":{"expr":"-0.2-4.45*(length(datum.t)-1)"}},
     "encoding":{"x":{"field":"g","type":"nominal"},"y":{"datum":5.77}}},
    {"data":{"name":"grp"},"transform":[{"filter":"datum.p=='aR'"}],"mark":{"type":"text","fontSize":16,"align":"left","baseline":"middle","color":"#111","dx":{"expr":"-0.2-4.45*(length(datum.t)-1)"}},
     "encoding":{"x":{"field":"g","type":"nominal"},"y":{"datum":5.77},"text":{"field":"t"}}}
   ]}
 ], "spacing": 100, "bounds": "flush",
 "title": {"text":"Age (y)","orient":"bottom","anchor":"middle","fontSize":20,"fontWeight":"normal","offset":15,"dx":43}},
 {"hconcat": [
  {"width":280,"height":207,
   "title":{"text":"b","anchor":"start","frame":"bounds","fontSize":19,"fontWeight":"bold","dx":-30,"offset":-14},
   "layer":[
    {"data":{"name":"core"},"transform":[{"filter":"datum.p=='bL'"},{"flatten":["j"]}],"mark":{"type":"point","shape":"circle","filled":true,"size":56,"color":"#111","stroke":"#111","strokeWidth":1,"opacity":1},
     "encoding":{"x":{"field":"g","type":"nominal","scale":{"type":"band","domain":["Non-Asian","Asian"],"paddingInner":0.7696,"paddingOuter":0.03},"axis":{"title":null}},"xOffset":{"field":"j","type":"quantitative","scale":{"domain":[-10,10]}},"y":{"field":"v","type":"quantitative","scale":{"domain":[-0.08,2.07],"nice":false,"zero":false},"axis":{"values":[0,0.5,1,1.5,2],"format":".1f","title":"Covariate-normalized CL (L/day)ᵃ"}}}},
    {"data":{"name":"open"},"transform":[{"filter":"datum.p=='bL'"},{"flatten":["d"]}],"mark":{"type":"point","shape":"circle","filled":false,"size":40,"color":"#111","strokeWidth":1,"opacity":1},
     "encoding":{"x":{"field":"g","type":"nominal"},"xOffset":{"field":"d[0]","type":"quantitative"},"y":{"field":"d[1]","type":"quantitative"}}},
    {"data":{"name":"grp"},"transform":[{"filter":"datum.p=='bL'"}],"mark":{"type":"point","shape":"square","filled":true,"size":170,"color":"#4b5cc0","stroke":"#7e93dd","strokeWidth":1.2,"opacity":1},
     "encoding":{"x":{"field":"g","type":"nominal"},"y":{"field":"m","type":"quantitative"}}},
    {"data":{"name":"grp"},"transform":[{"filter":"datum.p=='bL'"}],"mark":{"type":"tick","color":"#c9311f","thickness":2,"size":44,"opacity":1},
     "encoding":{"x":{"field":"g","type":"nominal"},"y":{"field":"r","type":"quantitative"}}},
    {"data":{"name":"grp"},"transform":[{"filter":"datum.p=='bL'"}],"mark":{"type":"text","text":"n","fontStyle":"italic","fontSize":16,"align":"right","baseline":"middle","color":"#111","dx":{"expr":"-0.2-4.45*(length(datum.t)-1)"}},
     "encoding":{"x":{"field":"g","type":"nominal"},"y":{"datum":1.9}}},
    {"data":{"name":"grp"},"transform":[{"filter":"datum.p=='bL'"}],"mark":{"type":"text","fontSize":16,"align":"left","baseline":"middle","color":"#111","dx":{"expr":"-0.2-4.45*(length(datum.t)-1)"}},
     "encoding":{"x":{"field":"g","type":"nominal"},"y":{"datum":1.9},"text":{"field":"t"}}}
   ]},
  {"width":280,"height":207,
   "layer":[
    {"data":{"name":"core"},"transform":[{"filter":"datum.p=='bR'"},{"flatten":["j"]}],"mark":{"type":"point","shape":"circle","filled":true,"size":56,"color":"#111","stroke":"#111","strokeWidth":1,"opacity":1},
     "encoding":{"x":{"field":"g","type":"nominal","scale":{"type":"band","domain":["Non-Asian","Asian"],"paddingInner":0.7696,"paddingOuter":0.03},"axis":{"title":null}},"xOffset":{"field":"j","type":"quantitative","scale":{"domain":[-10,10]}},"y":{"field":"v","type":"quantitative","scale":{"domain":[0.79,6.21],"nice":false,"zero":false},"axis":{"values":[1,2,3,4,5,6],"format":"d","title":"Covariate-normalized VC (L)ᵃ"}}}},
    {"data":{"name":"open"},"transform":[{"filter":"datum.p=='bR'"},{"flatten":["d"]}],"mark":{"type":"point","shape":"circle","filled":false,"size":40,"color":"#111","strokeWidth":1,"opacity":1},
     "encoding":{"x":{"field":"g","type":"nominal"},"xOffset":{"field":"d[0]","type":"quantitative"},"y":{"field":"d[1]","type":"quantitative"}}},
    {"data":{"name":"grp"},"transform":[{"filter":"datum.p=='bR'"}],"mark":{"type":"point","shape":"square","filled":true,"size":170,"color":"#4b5cc0","stroke":"#7e93dd","strokeWidth":1.2,"opacity":1},
     "encoding":{"x":{"field":"g","type":"nominal"},"y":{"field":"m","type":"quantitative"}}},
    {"data":{"name":"grp"},"transform":[{"filter":"datum.p=='bR'"}],"mark":{"type":"tick","color":"#c9311f","thickness":2,"size":44,"opacity":1},
     "encoding":{"x":{"field":"g","type":"nominal"},"y":{"field":"r","type":"quantitative"}}},
    {"data":{"name":"grp"},"transform":[{"filter":"datum.p=='bR'"}],"mark":{"type":"text","text":"n","fontStyle":"italic","fontSize":16,"align":"right","baseline":"middle","color":"#111","dx":{"expr":"-0.2-4.45*(length(datum.t)-1)"}},
     "encoding":{"x":{"field":"g","type":"nominal"},"y":{"datum":5.77}}},
    {"data":{"name":"grp"},"transform":[{"filter":"datum.p=='bR'"}],"mark":{"type":"text","fontSize":16,"align":"left","baseline":"middle","color":"#111","dx":{"expr":"-0.2-4.45*(length(datum.t)-1)"}},
     "encoding":{"x":{"field":"g","type":"nominal"},"y":{"datum":5.77},"text":{"field":"t"}}}
   ]}
 ], "spacing": 100, "bounds": "flush",
 "title": {"text":"Race","orient":"bottom","anchor":"middle","fontSize":20,"fontWeight":"normal","offset":15,"dx":43}},
 {"hconcat": [
  {"width":280,"height":207,
   "title":{"text":"c","anchor":"start","frame":"bounds","fontSize":19,"fontWeight":"bold","dx":-30,"offset":-14},
   "layer":[
    {"data":{"name":"core"},"transform":[{"filter":"datum.p=='cL'"},{"flatten":["j"]}],"mark":{"type":"point","shape":"circle","filled":true,"size":56,"color":"#111","stroke":"#111","strokeWidth":1,"opacity":1},
     "encoding":{"x":{"field":"g","type":"nominal","scale":{"type":"band","domain":["US","Western Europe","Asia","Other"],"paddingInner":0.3243,"paddingOuter":0.054,"align":0.75},"axis":{"title":null,"labelExpr":"split(datum.label,' ')","labelLineHeight":22}},"xOffset":{"field":"j","type":"quantitative","scale":{"domain":[-10,10]}},"y":{"field":"v","type":"quantitative","scale":{"domain":[-0.08,2.07],"nice":false,"zero":false},"axis":{"values":[0,0.5,1,1.5,2],"format":".1f","title":"Covariate-normalized CL (L/day)ᵃ"}}}},
    {"data":{"name":"open"},"transform":[{"filter":"datum.p=='cL'"},{"flatten":["d"]}],"mark":{"type":"point","shape":"circle","filled":false,"size":40,"color":"#111","strokeWidth":1,"opacity":1},
     "encoding":{"x":{"field":"g","type":"nominal"},"xOffset":{"field":"d[0]","type":"quantitative"},"y":{"field":"d[1]","type":"quantitative"}}},
    {"data":{"name":"grp"},"transform":[{"filter":"datum.p=='cL'"}],"mark":{"type":"point","shape":"square","filled":true,"size":190,"color":"#4b5cc0","stroke":"#7e93dd","strokeWidth":1.2,"opacity":1},
     "encoding":{"x":{"field":"g","type":"nominal"},"y":{"field":"m","type":"quantitative"}}},
    {"data":{"name":"grp"},"transform":[{"filter":"datum.p=='cL'"}],"mark":{"type":"tick","color":"#c9311f","thickness":2,"size":43,"opacity":1},
     "encoding":{"x":{"field":"g","type":"nominal"},"y":{"field":"r","type":"quantitative"}}},
    {"data":{"name":"grp"},"transform":[{"filter":"datum.p=='cL'"}],"mark":{"type":"text","text":"n","fontStyle":"italic","fontSize":16,"align":"right","baseline":"middle","color":"#111","dx":{"expr":"-0.2-4.45*(length(datum.t)-1)"}},
     "encoding":{"x":{"field":"g","type":"nominal"},"y":{"datum":1.9}}},
    {"data":{"name":"grp"},"transform":[{"filter":"datum.p=='cL'"}],"mark":{"type":"text","fontSize":16,"align":"left","baseline":"middle","color":"#111","dx":{"expr":"-0.2-4.45*(length(datum.t)-1)"}},
     "encoding":{"x":{"field":"g","type":"nominal"},"y":{"datum":1.9},"text":{"field":"t"}}}
   ]},
  {"width":280,"height":207,
   "layer":[
    {"data":{"name":"core"},"transform":[{"filter":"datum.p=='cR'"},{"flatten":["j"]}],"mark":{"type":"point","shape":"circle","filled":true,"size":56,"color":"#111","stroke":"#111","strokeWidth":1,"opacity":1},
     "encoding":{"x":{"field":"g","type":"nominal","scale":{"type":"band","domain":["US","Western Europe","Asia","Other"],"paddingInner":0.3243,"paddingOuter":0.054,"align":0.75},"axis":{"title":null,"labelExpr":"split(datum.label,' ')","labelLineHeight":22}},"xOffset":{"field":"j","type":"quantitative","scale":{"domain":[-10,10]}},"y":{"field":"v","type":"quantitative","scale":{"domain":[0.79,6.21],"nice":false,"zero":false},"axis":{"values":[1,2,3,4,5,6],"format":"d","title":"Covariate-normalized VC (L)ᵃ"}}}},
    {"data":{"name":"open"},"transform":[{"filter":"datum.p=='cR'"},{"flatten":["d"]}],"mark":{"type":"point","shape":"circle","filled":false,"size":40,"color":"#111","strokeWidth":1,"opacity":1},
     "encoding":{"x":{"field":"g","type":"nominal"},"xOffset":{"field":"d[0]","type":"quantitative"},"y":{"field":"d[1]","type":"quantitative"}}},
    {"data":{"name":"grp"},"transform":[{"filter":"datum.p=='cR'"}],"mark":{"type":"point","shape":"square","filled":true,"size":190,"color":"#4b5cc0","stroke":"#7e93dd","strokeWidth":1.2,"opacity":1},
     "encoding":{"x":{"field":"g","type":"nominal"},"y":{"field":"m","type":"quantitative"}}},
    {"data":{"name":"grp"},"transform":[{"filter":"datum.p=='cR'"}],"mark":{"type":"tick","color":"#c9311f","thickness":2,"size":43,"opacity":1},
     "encoding":{"x":{"field":"g","type":"nominal"},"y":{"field":"r","type":"quantitative"}}},
    {"data":{"name":"grp"},"transform":[{"filter":"datum.p=='cR'"}],"mark":{"type":"text","text":"n","fontStyle":"italic","fontSize":16,"align":"right","baseline":"middle","color":"#111","dx":{"expr":"-0.2-4.45*(length(datum.t)-1)"}},
     "encoding":{"x":{"field":"g","type":"nominal"},"y":{"datum":5.77}}},
    {"data":{"name":"grp"},"transform":[{"filter":"datum.p=='cR'"}],"mark":{"type":"text","fontSize":16,"align":"left","baseline":"middle","color":"#111","dx":{"expr":"-0.2-4.45*(length(datum.t)-1)"}},
     "encoding":{"x":{"field":"g","type":"nominal"},"y":{"datum":5.77},"text":{"field":"t"}}}
   ]}
 ], "spacing": 100, "bounds": "flush",
 "title": {"text":"Region","orient":"bottom","anchor":"middle","fontSize":20,"fontWeight":"normal","offset":-6,"dx":43}},
 {"hconcat": [
  {"width":280,"height":207,
   "title":{"text":"d","anchor":"start","frame":"bounds","fontSize":19,"fontWeight":"bold","dx":-30,"offset":-14},
   "layer":[
    {"data":{"name":"core"},"transform":[{"filter":"datum.p=='dL'"},{"flatten":["j"]}],"mark":{"type":"point","shape":"circle","filled":true,"size":56,"color":"#111","stroke":"#111","strokeWidth":1,"opacity":1},
     "encoding":{"x":{"field":"g","type":"nominal","scale":{"type":"band","domain":["Normal","Mild","Moderate","Severe"],"paddingInner":0.268,"paddingOuter":0.184,"align":0.76},"axis":{"title":null}},"xOffset":{"field":"j","type":"quantitative","scale":{"domain":[-10,10]}},"y":{"field":"v","type":"quantitative","scale":{"domain":[-0.08,2.07],"nice":false,"zero":false},"axis":{"values":[0,0.5,1,1.5,2],"format":".1f","title":"Covariate-normalized CL (L/day)ᵃ"}}}},
    {"data":{"name":"open"},"transform":[{"filter":"datum.p=='dL'"},{"flatten":["d"]}],"mark":{"type":"point","shape":"circle","filled":false,"size":40,"color":"#111","strokeWidth":1,"opacity":1},
     "encoding":{"x":{"field":"g","type":"nominal"},"xOffset":{"field":"d[0]","type":"quantitative"},"y":{"field":"d[1]","type":"quantitative"}}},
    {"data":{"name":"grp"},"transform":[{"filter":"datum.p=='dL'"}],"mark":{"type":"point","shape":"square","filled":true,"size":170,"color":"#4b5cc0","stroke":"#7e93dd","strokeWidth":1.2,"opacity":1},
     "encoding":{"x":{"field":"g","type":"nominal"},"y":{"field":"m","type":"quantitative"}}},
    {"data":{"name":"open"},"transform":[{"filter":"datum.p=='dL' && datum.g=='Severe'"},{"flatten":["d"]}],"mark":{"type":"point","shape":"circle","filled":false,"size":40,"color":"#111","strokeWidth":1,"opacity":1},
     "encoding":{"x":{"field":"g","type":"nominal"},"xOffset":{"field":"d[0]","type":"quantitative"},"y":{"field":"d[1]","type":"quantitative"}}},
    {"data":{"name":"grp"},"transform":[{"filter":"datum.p=='dL'"}],"mark":{"type":"tick","color":"#c9311f","thickness":2,"size":24,"opacity":1},
     "encoding":{"x":{"field":"g","type":"nominal"},"y":{"field":"r","type":"quantitative"}}},
    {"data":{"name":"grp"},"transform":[{"filter":"datum.p=='dL'"}],"mark":{"type":"text","text":"n","fontStyle":"italic","fontSize":16,"align":"right","baseline":"middle","color":"#111","dx":{"expr":"-0.2-4.45*(length(datum.t)-1)"}},
     "encoding":{"x":{"field":"g","type":"nominal"},"y":{"datum":1.9}}},
    {"data":{"name":"grp"},"transform":[{"filter":"datum.p=='dL'"}],"mark":{"type":"text","fontSize":16,"align":"left","baseline":"middle","color":"#111","dx":{"expr":"-0.2-4.45*(length(datum.t)-1)"}},
     "encoding":{"x":{"field":"g","type":"nominal"},"y":{"datum":1.9},"text":{"field":"t"}}}
   ]},
  {"width":280,"height":207,
   "layer":[
    {"data":{"name":"core"},"transform":[{"filter":"datum.p=='dR'"},{"flatten":["j"]}],"mark":{"type":"point","shape":"circle","filled":true,"size":56,"color":"#111","stroke":"#111","strokeWidth":1,"opacity":1},
     "encoding":{"x":{"field":"g","type":"nominal","scale":{"type":"band","domain":["Normal","Mild","Moderate","Severe"],"paddingInner":0.268,"paddingOuter":0.184,"align":0.76},"axis":{"title":null}},"xOffset":{"field":"j","type":"quantitative","scale":{"domain":[-10,10]}},"y":{"field":"v","type":"quantitative","scale":{"domain":[0.79,6.21],"nice":false,"zero":false},"axis":{"values":[1,2,3,4,5,6],"format":"d","title":"Covariate-normalized VC (L)ᵃ"}}}},
    {"data":{"name":"open"},"transform":[{"filter":"datum.p=='dR'"},{"flatten":["d"]}],"mark":{"type":"point","shape":"circle","filled":false,"size":40,"color":"#111","strokeWidth":1,"opacity":1},
     "encoding":{"x":{"field":"g","type":"nominal"},"xOffset":{"field":"d[0]","type":"quantitative"},"y":{"field":"d[1]","type":"quantitative"}}},
    {"data":{"name":"grp"},"transform":[{"filter":"datum.p=='dR'"}],"mark":{"type":"point","shape":"square","filled":true,"size":170,"color":"#4b5cc0","stroke":"#7e93dd","strokeWidth":1.2,"opacity":1},
     "encoding":{"x":{"field":"g","type":"nominal"},"y":{"field":"m","type":"quantitative"}}},
    {"data":{"name":"open"},"transform":[{"filter":"datum.p=='dR' && datum.g=='Severe'"},{"flatten":["d"]}],"mark":{"type":"point","shape":"circle","filled":false,"size":40,"color":"#111","strokeWidth":1,"opacity":1},
     "encoding":{"x":{"field":"g","type":"nominal"},"xOffset":{"field":"d[0]","type":"quantitative"},"y":{"field":"d[1]","type":"quantitative"}}},
    {"data":{"name":"grp"},"transform":[{"filter":"datum.p=='dR'"}],"mark":{"type":"tick","color":"#c9311f","thickness":2,"size":24,"opacity":1},
     "encoding":{"x":{"field":"g","type":"nominal"},"y":{"field":"r","type":"quantitative"}}},
    {"data":{"name":"grp"},"transform":[{"filter":"datum.p=='dR'"}],"mark":{"type":"text","text":"n","fontStyle":"italic","fontSize":16,"align":"right","baseline":"middle","color":"#111","dx":{"expr":"-0.2-4.45*(length(datum.t)-1)"}},
     "encoding":{"x":{"field":"g","type":"nominal"},"y":{"datum":5.77}}},
    {"data":{"name":"grp"},"transform":[{"filter":"datum.p=='dR'"}],"mark":{"type":"text","fontSize":16,"align":"left","baseline":"middle","color":"#111","dx":{"expr":"-0.2-4.45*(length(datum.t)-1)"}},
     "encoding":{"x":{"field":"g","type":"nominal"},"y":{"datum":5.77},"text":{"field":"t"}}}
   ]}
 ], "spacing": 100, "bounds": "flush",
 "title": {"text":"Renal functionᵇ","orient":"bottom","anchor":"middle","fontSize":20,"fontWeight":"normal","offset":12,"dx":43}}
],
"spacing": 328,
"bounds": "flush"
}
